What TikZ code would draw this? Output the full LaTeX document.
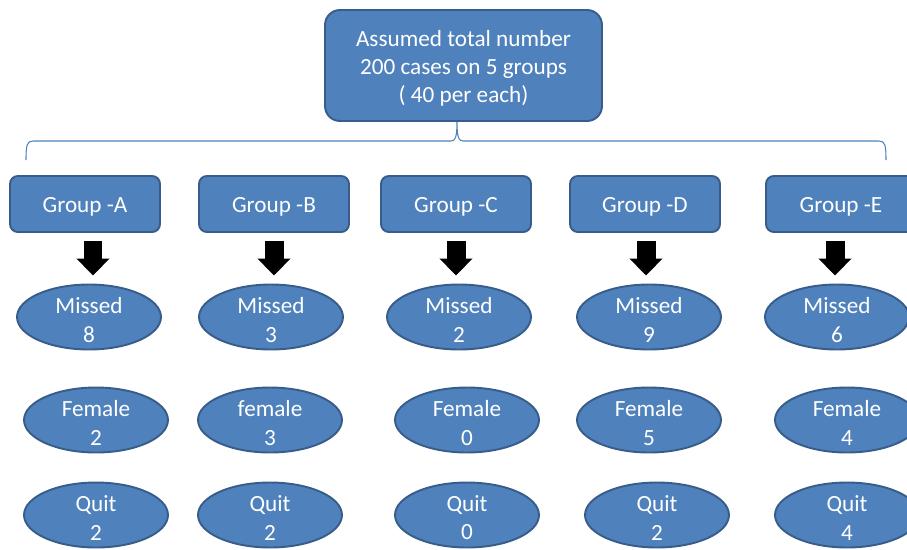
\documentclass[tikz,border=0pt]{standalone}
\usepackage{fontspec}
\setmainfont{Carlito}
\usetikzlibrary{shapes.geometric, arrows.meta, calc}

\definecolor{boxblue}{HTML}{4F81BD}
\definecolor{edgeblue}{HTML}{385D8A}

\begin{document}
\begin{tikzpicture}[x=0.02cm, y=-0.02cm,
  every node/.style={text=white, font=\fontsize{13.2}{16}\selectfont},
  every label/.style={align=center, yshift=-1.7pt},
  rbox/.style={draw=edgeblue, fill=boxblue, line width=1.1pt, rounded corners=4.5pt, minimum width=3cm, minimum height=1.12cm},
  oval/.style={ellipse, draw=edgeblue, fill=boxblue, line width=1.1pt, minimum width=2.88cm, minimum height=1.3cm, inner sep=0pt},
  blockarrow/.style={line width=0.38cm, -{Triangle[width=0.64cm,length=0.34cm]}}]
\useasboundingbox (0,0) rectangle (907,549);
\clip (0,0) rectangle (907,549);

\node[rbox, minimum width=5.54cm, minimum height=2.22cm, rounded corners=8.5pt,
  label={center:{Assumed total number\\200 cases on 5 groups\\( 40 per each)}}] (total) at (463.5,65.5) {};

% brace under the top box
\coordinate (braceL) at (26,160);
\coordinate (braceR) at (886,160);
\draw[boxblue, line width=0.6pt] (braceL) .. controls (26,145) and (27,141) .. (33,141) -- (451,141)
  .. controls (455,141) and (457,138) .. (457,122) .. controls (457,138) and (459,141) .. (463,141)
  -- (879,141) .. controls (885,141) and (886,145) .. (braceR);

\node[rbox, label={center:Group -A}] (gA) at (85,204) {};
\node[rbox, label={center:Group -B}] (gB) at (274,204) {};
\node[rbox, label={center:Group -C}] (gC) at (456,204) {};
\node[rbox, label={center:Group -D}] (gD) at (645,204) {};
\node[rbox, label={center:Group -E}] (gE) at (841,204) {};

\node[oval, label={center:{Missed\\8}}] (mA) at (89,317) {};
\node[oval, label={center:{Missed\\3}}] (mB) at (271,317) {};
\node[oval, label={center:{Missed\\2}}] (mC) at (459,317) {};
\node[oval, label={center:{Missed\\9}}] (mD) at (649,317) {};
\node[oval, label={center:{Missed\\6}}] (mE) at (837,317) {};

\node[oval, label={center:{Female\\2}}] (fA) at (96,420) {};
\node[oval, label={center:{female\\3}}] (fB) at (270,420) {};
\node[oval, label={center:{Female\\0}}] (fC) at (467,420) {};
\node[oval, label={center:{Female\\5}}] (fD) at (649,420) {};
\node[oval, label={center:{Female\\4}}] (fE) at (847,420) {};

\node[oval, label={center:{Quit\\2}}] (qA) at (96,515) {};
\node[oval, label={center:{Quit\\2}}] (qB) at (270,515) {};
\node[oval, label={center:{Quit\\0}}] (qC) at (467,515) {};
\node[oval, label={center:{Quit\\2}}] (qD) at (657,515) {};
\node[oval, label={center:{Quit\\4}}] (qE) at (847,515) {};

\draw[blockarrow] ($(gA.south)+(8,8)$) -- ($(mA.north)+(4,-8)$);
\draw[blockarrow] ($(gB.south)+(0,8)$) -- ($(mB.north)+(3,-8)$);
\draw[blockarrow] ($(gC.south)+(0,8)$) -- ($(mC.north)+(-3,-8)$);
\draw[blockarrow] ($(gD.south)+(1,8)$) -- ($(mD.north)+(-3,-8)$);
\draw[blockarrow] ($(gE.south)+(-6,8)$) -- ($(mE.north)+(-2,-8)$);

\end{tikzpicture}
\end{document}
